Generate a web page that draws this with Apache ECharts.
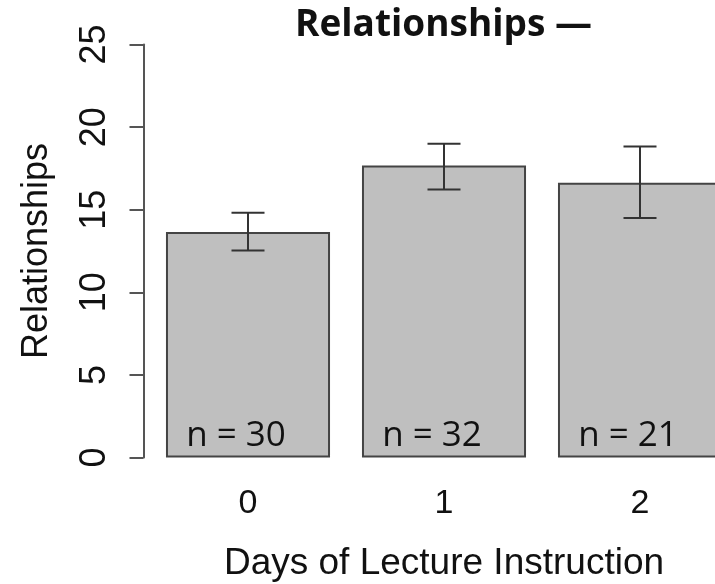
<!DOCTYPE html>
<html>
<head>
<meta charset="utf-8">
<script src="https://cdn.jsdelivr.net/npm/echarts@6/dist/echarts.min.js"></script>
<style>
html,body{margin:0;padding:0;background:#fff;}
#chart{width:715px;height:584px;}
</style>
</head>
<body>
<div id="chart"></div>
<script>
var categories = ['0', '1', '2'];
var means = [13.65, 17.68, 16.64];
var errLow = [12.53, 16.23, 14.50];
var errHigh = [14.82, 19.00, 18.83];
var nValues = [30, 32, 21];
var yTicks = [0, 5, 10, 15, 20, 25];

var chart = echarts.init(document.getElementById('chart'), null, {renderer: 'canvas'});
var axisFont = '"Liberation Sans", Arial, sans-serif';

var option = {
  backgroundColor: '#ffffff',
  animation: false,
  title: {
    text: 'Relationships \u2014',
    left: 290,
    top: 2,
    textStyle: {fontFamily: '"Open Sans", "Noto Sans", sans-serif', fontWeight: 'bold', fontSize: 37, color: '#111'}
  },
  grid: {left: 150, width: 588, top: 44.6, height: 412.9, containLabel: false, outerBoundsMode: 'none'},
  xAxis: {
    type: 'category',
    data: categories,
    name: 'Days of Lecture Instruction',
    nameLocation: 'middle',
    nameGap: 88,
    nameTextStyle: {fontFamily: axisFont, fontSize: 37, color: '#111'},
    axisLine: {show: false},
    axisTick: {show: false},
    axisLabel: {fontFamily: axisFont, fontSize: 34, color: '#111', margin: 29}
  },
  yAxis: {
    type: 'value',
    min: yTicks[0],
    max: yTicks[yTicks.length - 1],
    interval: 5,
    offset: 6.5,
    name: 'Relationships',
    nameLocation: 'middle',
    nameGap: 88,
    nameTextStyle: {fontFamily: axisFont, fontSize: 36, color: '#111'},
    splitLine: {show: false},
    axisLine: {show: true, lineStyle: {color: '#555', width: 2}},
    axisTick: {show: true, length: 14, lineStyle: {color: '#555', width: 2}},
    axisLabel: {fontFamily: axisFont, fontSize: 36, color: '#111', rotate: 90, margin: 30}
  },
  series: [
    {
      type: 'bar',
      data: means,
      barCategoryGap: '16.3%',
      itemStyle: {color: '#bfbfbf', borderColor: '#444', borderWidth: 2},
      label: {
        show: true,
        position: 'insideBottom',
        offset: [-12, 1],
        formatter: function (p) { return 'n = ' + nValues[p.dataIndex]; },
        fontFamily: '"Open Sans", "Noto Sans", sans-serif',
        fontSize: 35,
        color: '#111'
      },
      z: 2
    },
    {
      type: 'custom',
      data: categories.map(function (c, i) { return [i, errLow[i], errHigh[i]]; }),
      renderItem: function (params, api) {
        var x = api.value(0);
        var lo = api.coord([x, api.value(1)]);
        var hi = api.coord([x, api.value(2)]);
        var half = 16.5;
        var style = {stroke: '#333', lineWidth: 2};
        return {
          type: 'group',
          children: [
            {type: 'line', shape: {x1: lo[0], y1: lo[1], x2: hi[0], y2: hi[1]}, style: style},
            {type: 'line', shape: {x1: lo[0] - half, y1: lo[1], x2: lo[0] + half, y2: lo[1]}, style: style},
            {type: 'line', shape: {x1: hi[0] - half, y1: hi[1], x2: hi[0] + half, y2: hi[1]}, style: style}
          ]
        };
      },
      z: 5
    }
  ]
};
chart.setOption(option);
</script>
</body>
</html>
